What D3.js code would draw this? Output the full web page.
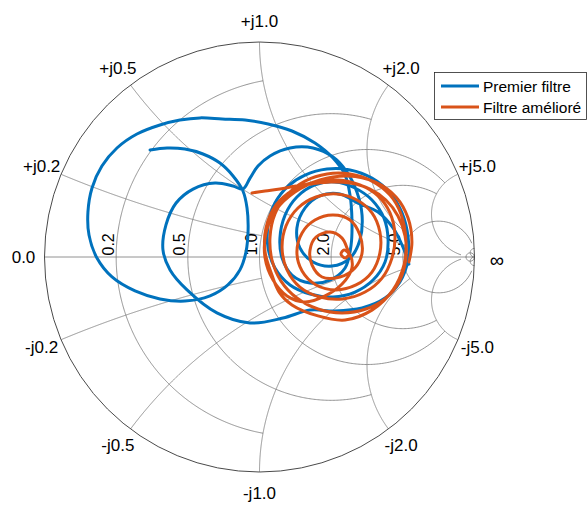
<!DOCTYPE html>
<html><head><meta charset="utf-8">
<script src="https://cdn.jsdelivr.net/npm/d3@7"></script>
<style>body{margin:0;background:#fff}</style>
</head><body>
<svg id="chart" width="588" height="507"></svg>
<script>
// Smith chart grid: values and the limits where each grid line stops
const gridValues = [0.2, 0.5, 1, 2, 5, 50];
const gridLimits = [1, 2, 5, 5, 30, Infinity];
const resistanceTicks = [0.2, 0.5, 1, 2, 5];
const resistanceLabels = ["0.2", "0.5", "1.0", "2.0", "5.0"];
const reactanceTicks = [0.2, 0.5, 1, 2, 5];
const reactanceLabelsPos = ["+j0.2", "+j0.5", "+j1.0", "+j2.0", "+j5.0"];
const reactanceLabelsNeg = ["-j0.2", "-j0.5", "-j1.0", "-j2.0", "-j5.0"];
const seriesNames = ["Premier filtre", "Filtre amélioré"];

const premierRe = [-0.509,-0.430,-0.347,-0.263,-0.184,-0.123,-0.077,-0.058,-0.053,-0.063,
  -0.091,-0.147,-0.230,-0.347,-0.463,-0.579,-0.686,-0.756,-0.793,-0.798,
  -0.779,-0.733,-0.663,-0.570,-0.463,-0.370,-0.277,-0.174,-0.067,0.040,
  0.151,0.258,0.342,0.398,0.421,0.430,0.426,0.398,0.328,0.235,
  0.151,0.105,0.095,0.119,0.174,0.258,0.351,0.444,0.523,0.579,
  0.598,0.584,0.528,0.444,0.342,0.235,0.142,0.072,0.040,0.040,
  0.072,0.133,0.212,0.314,0.421,0.523,0.607,0.663,0.691,0.691,
  0.653,0.584,0.477,0.351,0.235,0.109,-0.044,-0.198,-0.337,-0.416,
  -0.449,-0.435,-0.388,-0.309,-0.207,-0.123,-0.077,-0.044,-0.007,0.049,
  0.142,0.249,0.342,0.407,0.453,0.477,0.467,0.421,0.337,0.249,
  0.188,0.174,0.212,0.281,0.374,0.458,0.551,0.621,0.663,0.686,0.695];
const premierIm = [0.498,0.507,0.502,0.479,0.437,0.377,0.307,0.228,0.126,0.023,
  -0.060,-0.130,-0.181,-0.205,-0.195,-0.158,-0.093,-0.005,0.102,0.209,
  0.321,0.423,0.507,0.572,0.614,0.637,0.647,0.642,0.637,0.619,
  0.586,0.530,0.460,0.381,0.288,0.172,0.056,-0.051,-0.107,-0.121,
  -0.084,-0.005,0.088,0.195,0.279,0.335,0.349,0.321,0.265,0.181,
  0.079,-0.023,-0.107,-0.163,-0.186,-0.172,-0.130,-0.051,0.042,0.149,
  0.251,0.330,0.381,0.409,0.405,0.367,0.298,0.205,0.093,-0.014,
  -0.116,-0.191,-0.237,-0.251,-0.247,-0.284,-0.307,-0.260,-0.153,-0.060,
  0.033,0.149,0.251,0.316,0.344,0.330,0.316,0.367,0.423,0.470,
  0.507,0.507,0.465,0.395,0.302,0.195,0.079,-0.005,-0.042,-0.023,
  0.042,0.135,0.228,0.284,0.293,0.251,0.209,0.135,0.056,-0.005,-0.033];

const amelioreRe = [-0.035,0.026,0.095,0.170,0.244,0.328,0.421,0.514,0.588,0.644,
  0.677,0.681,0.653,0.588,0.495,0.384,0.272,0.174,0.100,0.058,
  0.049,0.072,0.128,0.212,0.314,0.421,0.523,0.607,0.658,0.681,
  0.672,0.621,0.523,0.398,0.272,0.151,0.091,0.058,0.026,0.030,
  0.077,0.156,0.258,0.365,0.467,0.551,0.607,0.630,0.616,0.570,
  0.491,0.388,0.281,0.188,0.128,0.105,0.123,0.179,0.263,0.360,
  0.453,0.523,0.560,0.560,0.523,0.449,0.356,0.263,0.198,0.174,
  0.198,0.258,0.342,0.421,0.467,0.477,0.444,0.374,0.291,0.244,
  0.235,0.263,0.328,0.384,0.407,0.416,0.398,0.379,0.393,0.421,
  0.430,0.384,0.305,0.212,0.128,0.063,0.026,0.030,0.077,0.165,
  0.281,0.412,0.537,0.635,0.691,0.709,0.695];
const amelioreIm = [0.298,0.307,0.316,0.330,0.340,0.349,0.344,0.316,0.265,0.191,
  0.098,-0.005,-0.107,-0.191,-0.242,-0.260,-0.242,-0.191,-0.112,-0.014,
  0.093,0.200,0.288,0.353,0.386,0.386,0.353,0.288,0.200,0.079,
  -0.037,-0.153,-0.247,-0.293,-0.274,-0.223,-0.163,-0.084,0.023,0.135,
  0.242,0.312,0.349,0.358,0.335,0.284,0.205,0.102,-0.005,-0.098,
  -0.163,-0.195,-0.186,-0.140,-0.060,0.042,0.144,0.228,0.279,0.293,
  0.265,0.205,0.116,0.019,-0.070,-0.130,-0.153,-0.130,-0.065,0.023,
  0.112,0.172,0.195,0.172,0.102,0.019,-0.051,-0.093,-0.093,-0.037,
  0.033,0.093,0.116,0.088,0.042,0.014,-0.005,0.014,0.033,0.009,
  -0.051,-0.126,-0.181,-0.209,-0.181,-0.107,-0.005,0.112,0.219,0.302,
  0.358,0.377,0.349,0.279,0.181,0.070,-0.023];

const colors = ["#0072BD", "#D95319"];

const svg = d3.select("#chart");
const cx = 259.5, cy = 257, R = 215;
const x = d3.scaleLinear().domain([-1, 1]).range([cx - R, cx + R]);
const y = d3.scaleLinear().domain([-1, 1]).range([cy + R, cy - R]);

function gamma(r, xi) {
  const d = (r + 1) * (r + 1) + xi * xi;
  return [(r * r - 1 + xi * xi) / d, (2 * xi) / d];
}
const line = d3.line().x(d => x(d[0])).y(d => y(d[1]));
const gridG = svg.append("g");
const N = 500;
const gridColor = "#777777";

// resistance circles
gridValues.forEach((v, i) => {
  const L = gridLimits[i];
  const a = Math.atan(L);
  const pts = d3.range(N + 1).map(k => gamma(v, Math.tan(-a + 2 * a * k / N)));
  gridG.append("path").attr("d", line(pts)).attr("fill", "none")
    .attr("stroke", gridColor).attr("stroke-width", 0.8);
});
// reactance arcs
gridValues.forEach((v, i) => {
  const L = gridLimits[i];
  const a = Math.atan(L);
  [1, -1].forEach(s => {
    const pts = d3.range(N + 1).map(k => gamma(Math.tan(a * k / N), s * v));
    gridG.append("path").attr("d", line(pts)).attr("fill", "none")
      .attr("stroke", gridColor).attr("stroke-width", 0.8);
  });
});
// real axis
gridG.append("line").attr("x1", x(-1)).attr("x2", x(1)).attr("y1", y(0)).attr("y2", y(0))
  .attr("stroke", gridColor).attr("stroke-width", 0.8);
// outer circle
gridG.append("circle").attr("cx", x(0)).attr("cy", y(0)).attr("r", x(1) - x(0))
  .attr("fill", "none").attr("stroke", "#4a4a4a").attr("stroke-width", 1);

// resistance labels
const font = "'Liberation Sans', Arial, Helvetica, sans-serif";
resistanceTicks.forEach((v, i) => {
  const g = gamma(v, 0);
  svg.append("text")
    .attr("transform", `translate(${x(g[0]) - 2.5},${y(0) - 1.5}) rotate(-90)`)
    .attr("font-family", font).attr("font-size", 16).attr("fill", "#000")
    .text(resistanceLabels[i]);
});

// reactance labels around the rim
const labR = R + 21;
function rimLabel(ang, txt, dy, fs) {
  svg.append("text")
    .attr("x", cx + labR * Math.cos(ang) + (fs ? 1.5 : 0)).attr("y", cy - labR * Math.sin(ang) + (dy || 0))
    .attr("text-anchor", "middle").attr("dominant-baseline", "central")
    .attr("font-family", font).attr("font-size", fs || 17).attr("fill", "#000")
    .text(txt);
}
reactanceTicks.forEach((v, i) => {
  const gp = gamma(0, v), gn = gamma(0, -v);
  rimLabel(Math.atan2(gp[1], gp[0]), reactanceLabelsPos[i]);
  rimLabel(Math.atan2(gn[1], gn[0]), reactanceLabelsNeg[i]);
});
rimLabel(Math.PI, "0.0");
rimLabel(0, "∞", 3, 20);

// data curves
const curve = d3.line().x(d => x(d[0])).y(d => y(d[1])).curve(d3.curveCatmullRom.alpha(0.5));
const series = [
  premierRe.map((r, i) => [r, premierIm[i]]),
  amelioreRe.map((r, i) => [r, amelioreIm[i]])
];
series.forEach((s, i) => {
  svg.append("path").attr("d", curve(s)).attr("fill", "none")
    .attr("stroke", colors[i]).attr("stroke-width", 3)
    .attr("stroke-linejoin", "round").attr("stroke-linecap", "round");
});

// legend
const lg = svg.append("g").attr("transform", "translate(434,72)");
lg.append("rect").attr("x", 0.5).attr("y", 0.5).attr("width", 152).attr("height", 47)
  .attr("fill", "#fff").attr("stroke", "#262626").attr("stroke-width", 0.8);
seriesNames.forEach((n, i) => {
  const yy = 14 + i * 21;
  lg.append("line").attr("x1", 7).attr("x2", 45).attr("y1", yy).attr("y2", yy)
    .attr("stroke", colors[i]).attr("stroke-width", 3);
  lg.append("text").attr("x", 49).attr("y", yy).attr("dominant-baseline", "central")
    .attr("font-family", font).attr("font-size", 15.5).attr("fill", "#000").text(n);
});
</script>
</body></html>
